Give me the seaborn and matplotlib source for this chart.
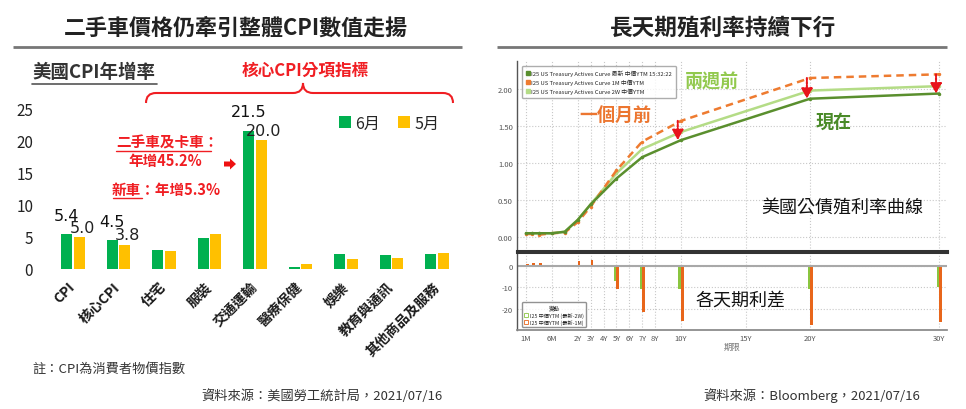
import matplotlib
matplotlib.use("Agg")
import matplotlib.pyplot as plt
from matplotlib.path import Path
from matplotlib.patches import PathPatch, Patch, FancyArrow
from matplotlib.lines import Line2D
import numpy as np
import pandas as pd
import seaborn as sns

# ---- left: US CPI year-on-year (%) ----
categories = ['CPI', '核心CPI', '住宅', '服裝', '交通運輸', '醫療保健', '娛樂', '教育與通訊', '其他商品及服務']
cpi_jun = [5.4, 4.5, 3.0, 4.8, 21.5, 0.3, 2.3, 2.1, 2.3]
cpi_may = [5.0, 3.8, 2.8, 5.5, 20.0, 0.8, 1.5, 1.7, 2.5]
labelled = ['CPI', '核心CPI', '交通運輸']

# ---- right: US treasury curve (%), and changes (bp) ----
tenor_years = [1 / 12, 2 / 12, 3 / 12, 6 / 12, 1, 2, 3, 5, 7, 10, 20, 30]
yield_now = [0.05, 0.05, 0.05, 0.05, 0.07, 0.23, 0.44, 0.79, 1.08, 1.31, 1.87, 1.94]
yield_2w = [0.05, 0.05, 0.05, 0.05, 0.07, 0.23, 0.44, 0.86, 1.19, 1.42, 1.98, 2.04]
yield_1m = [0.04, 0.04, 0.03, 0.05, 0.06, 0.20, 0.41, 0.90, 1.29, 1.57, 2.15, 2.20]
chg_2w = [0.0, 0.0, 0.0, 0.0, 0.0, 0.0, 0.3, -7.0, -10.9, -10.9, -10.9, -9.8]
chg_1m = [0.8, 1.2, 1.5, 0.0, 0.6, 2.3, 2.8, -10.9, -21.4, -26.0, -27.6, -26.4]
tick_names = ['1M', '6M', '2Y', '3Y', '4Y', '5Y', '6Y', '7Y', '8Y', '10Y', '15Y', '20Y', '30Y']
tick_years = [1 / 12, 0.5, 2, 3, 4, 5, 6, 7, 8, 10, 15, 20, 30]
arrow_tenors = [10, 20, 30]

# Bloomberg stretches the short end of the tenor axis
knot_years = [-1, 1 / 12, 0.25, 0.5, 1, 2, 40]
knot_pos = [-6.5, 0, 1, 2, 3, 4, 42]


def tenor_pos(years):
    return np.interp(years, knot_years, knot_pos)


sns.set_theme(style="white")
plt.rcParams['font.family'] = ['Noto Sans CJK TC', 'DejaVu Sans']

W, H = 966, 410
fig = plt.figure(figsize=(W / 100, H / 100), dpi=100)


def box(x0, y0, x1, y1):
    # pixel box (top-left origin) -> figure fraction
    return [x0 / W, 1 - y1 / H, (x1 - x0) / W, (y1 - y0) / H]


RED = '#f01e23'

# ================= left bar chart =================
axL = fig.add_axes(box(45.7, 109, 464.3, 270))
df = pd.DataFrame({
    'cat': categories * 2,
    'month': ['6月'] * len(categories) + ['5月'] * len(categories),
    'val': cpi_jun + cpi_may,
})
sns.barplot(data=df, x='cat', y='val', hue='month', order=categories,
            palette={'6月': '#00b050', '5月': '#ffc000'}, saturation=1,
            width=0.55, gap=0.1, linewidth=0, ax=axL)
axL.set_xlim(-0.6, 8.6)
axL.set_ylim(0, 25)
axL.set_yticks([0, 5, 10, 15, 20, 25])
axL.set_xlabel('')
axL.set_ylabel('')
sns.despine(ax=axL, left=True, bottom=True)
axL.tick_params(axis='y', length=0, pad=9, labelsize=11, labelcolor='#222222')
axL.tick_params(axis='x', length=0, pad=11)
for lab in axL.get_xticklabels():
    lab.set_rotation(45)
    lab.set_ha('right')
    lab.set_va('center')
    lab.set_rotation_mode('anchor')
    lab.set_fontsize(10)
    lab.set_fontweight('bold')
    lab.set_color('#1a1a1a')

for i, c in enumerate(categories):
    if c not in labelled:
        continue
    g = axL.containers[0][i]
    y = axL.containers[1][i]
    axL.annotate(f'{cpi_jun[i]:.1f}', (g.get_x() + g.get_width() / 2, g.get_height()),
                 xytext=(0, 13.5), textcoords='offset points', ha='center', va='center',
                 fontsize=11.5, color='#111111', fontfamily=['DejaVu Sans'])
    axL.annotate(f'{cpi_may[i]:.1f}', (y.get_x() + y.get_width() / 2, y.get_height()),
                 xytext=(2, 7), textcoords='offset points', ha='center', va='center',
                 fontsize=11.5, color='#222222', fontfamily=['DejaVu Sans'])

axL.legend(loc='center left', bbox_to_anchor=(0.70, 0.905), ncol=2, frameon=False,
           fontsize=11.5, handlelength=0.75, handleheight=0.75, handletextpad=0.3,
           columnspacing=1.1, borderpad=0, borderaxespad=0)

# ================= right yield curve =================
axT = fig.add_axes(box(517, 62, 947, 252))
axB = fig.add_axes(box(517, 253, 947, 331))

px = tenor_pos(tenor_years)
curves = [
    (yield_2w, '#b4dc86', '-', 'I25 US Treasury Actives Curve 2W 中價YTM'),
    (yield_1m, '#ee7b30', (0, (3, 2)), 'I25 US Treasury Actives Curve 1M 中價YTM'),
    (yield_now, '#5a8f2e', '-', 'I25 US Treasury Actives Curve 最新 中價YTM 15:32:22'),
]
for vals, col, ls, name in curves:
    sns.lineplot(x=px, y=vals, color=col, linestyle=ls, lw=1.8, marker='o', ms=2.5,
                 markeredgewidth=0, ax=axT, label=name, legend=False)

for t in arrow_tenors:
    i = tenor_years.index(t)
    axT.annotate('', xy=(px[i] - 0.25, yield_now[i]), xytext=(px[i] - 0.25, yield_1m[i]),
                 arrowprops=dict(arrowstyle='-|>,head_width=0.28,head_length=0.5',
                                 linestyle=(0, (1, 0.8)), color='#e8141c', lw=1.5,
                                 shrinkA=0, shrinkB=0))

tp = tenor_pos(tick_years)
for ax in (axT, axB):
    ax.set_xlim(-0.7, 32.6)
    ax.set_xticks(tp)
    ax.grid(True, ls=':', color='#c8c8c8', lw=0.8)
    ax.spines['top'].set_visible(False)
    ax.spines['right'].set_visible(False)
    ax.spines['left'].set_color('#555555')
    ax.spines['left'].set_linewidth(1)
    ax.tick_params(axis='y', direction='out', length=2, width=0.8, color='#333333',
                   labelsize=5.5, labelcolor='#555555', pad=1)
    ax.set_facecolor('white')

axT.set_ylim(-0.19, 2.38)
axT.set_yticks([0, 0.5, 1.0, 1.5, 2.0])
axT.set_yticklabels([f'{v:.2f}' for v in [0, 0.5, 1.0, 1.5, 2.0]])
axT.tick_params(axis='x', length=0, labelbottom=False)
axT.spines['bottom'].set_color('#333333')
axT.spines['bottom'].set_linewidth(2.2)

leg_handles = [Line2D([], [], ls='none', marker='s', ms=2.5, color=c[1]) for c in curves[::-1]]
axT.legend(leg_handles, [c[3] for c in curves[::-1]], loc='upper left',
           bbox_to_anchor=(0.005, 0.99), fontsize=4.2, frameon=True, edgecolor='#999999',
           fancybox=True, handlelength=0.6, handletextpad=0.3, labelspacing=0.45,
           borderpad=0.7, markerscale=1)

bw = 0.2
axB.bar(px - bw / 2, chg_2w, width=bw, color='#8ac53f', linewidth=0)
axB.bar(px + bw / 2, chg_1m, width=bw, color='#e8661b', linewidth=0)
axB.axhline(0, color='#a8a8a8', lw=1.5, zorder=1)
axB.set_ylim(-29.8, 6.5)
axB.set_yticks([0, -10, -20, -30])
axB.set_yticklabels(['0', '-10', '-20', ''])
axB.set_xticklabels(tick_names)
axB.tick_params(axis='x', direction='out', length=2, width=0.8, color='#333333',
                labelsize=5.5, labelcolor='#555555', pad=1)
axB.spines['top'].set_visible(True)
axB.spines['top'].set_color('#333333')
axB.spines['top'].set_linewidth(2.2)
axB.spines['bottom'].set_color('#888888')
axB.set_xlabel('期限', fontsize=6, color='#777777', labelpad=0)
axB.legend([Patch(facecolor='white', edgecolor='#8ac53f', lw=0.6),
            Patch(facecolor='white', edgecolor='#e8661b', lw=0.6)],
           ['I25 中價YTM (最新-2W)', 'I25 中價YTM (最新-1M)'], title='變動',
           loc='lower left', bbox_to_anchor=(0.005, 0.0), fontsize=3.8, title_fontsize=4,
           frameon=True, edgecolor='#777777', fancybox=True, handlelength=0.7,
           handleheight=0.7, handletextpad=0.3, labelspacing=0.25, borderpad=0.5)

# ================= overlay for titles and notes (pixel coords) =================
ov = fig.add_axes([0, 0, 1, 1], zorder=5)
ov.set_xlim(0, W)
ov.set_ylim(H, 0)
ov.axis('off')

ov.text(236, 28, '二手車價格仍牽引整體CPI數值走揚', ha='center', va='center',
        fontsize=15.8, fontweight='bold', color='#222222')
ov.text(723, 28, '長天期殖利率持續下行', ha='center', va='center',
        fontsize=16.3, fontweight='bold', color='#222222')
ov.plot([13, 462], [48, 48], color='#777777', lw=2, solid_capstyle='butt')
ov.plot([497, 947], [48, 48], color='#777777', lw=2, solid_capstyle='butt')

ov.text(32, 73, '美國CPI年增率', ha='left', va='center', fontsize=13.3,
        fontweight='bold', color='#333333')
ov.plot([32, 157], [84.5, 84.5], color='#555555', lw=1.2)
ov.text(305, 70, '核心CPI分項指標', ha='center', va='center', fontsize=12,
        fontweight='bold', color=RED)

brace = Path([(146, 104), (146, 94), (156, 94), (293, 94), (303, 94), (303, 84),
              (303, 94), (313, 94), (443, 94), (453, 94), (453, 104)],
             [Path.MOVETO, Path.CURVE3, Path.CURVE3, Path.LINETO, Path.CURVE3, Path.CURVE3,
              Path.CURVE3, Path.CURVE3, Path.LINETO, Path.CURVE3, Path.CURVE3])
ov.add_patch(PathPatch(brace, facecolor='none', edgecolor=RED, lw=1.5))

ov.text(116, 143, '二手車及卡車：', ha='left', va='center', fontsize=10.5,
        fontweight='bold', color=RED)
ov.plot([116, 211], [152, 152], color=RED, lw=1)
ov.text(165, 161, '年增45.2%', ha='center', va='center', fontsize=10.5,
        fontweight='bold', color=RED)
ov.text(112, 190, '新車：年增5.3%', ha='left', va='center', fontsize=10.5,
        fontweight='bold', color=RED)
ov.plot([113, 142], [199, 199], color=RED, lw=1)
ov.add_patch(FancyArrow(224, 165, 6, 0, width=5, head_width=11, head_length=6,
                        length_includes_head=False, color='#ee1111', lw=0))

ov.text(32, 369, '註：CPI為消費者物價指數', ha='left', va='center', fontsize=9.5,
        color='#333333')
ov.text(443, 396, '資料來源：美國勞工統計局，2021/07/16', ha='right', va='center',
        fontsize=9.5, color='#333333')
ov.text(920, 396, '資料來源：Bloomberg，2021/07/16', ha='right', va='center',
        fontsize=9.5, color='#333333')

ov.text(712, 82, '兩週前', ha='center', va='center', fontsize=13, fontweight='bold',
        color='#92c94e')
ov.text(615, 115, '一個月前', ha='center', va='center', fontsize=13, fontweight='bold',
        color='#ec7630')
ov.text(834, 122, '現在', ha='center', va='center', fontsize=13, fontweight='bold',
        color='#4a8a28')
ov.text(842, 209, '美國公債殖利率曲線', ha='center', va='center', fontsize=13,
        color='#111111')
ov.text(741, 301, '各天期利差', ha='center', va='center', fontsize=13,
        color='#111111')

fig.savefig('out.png', dpi=100)
